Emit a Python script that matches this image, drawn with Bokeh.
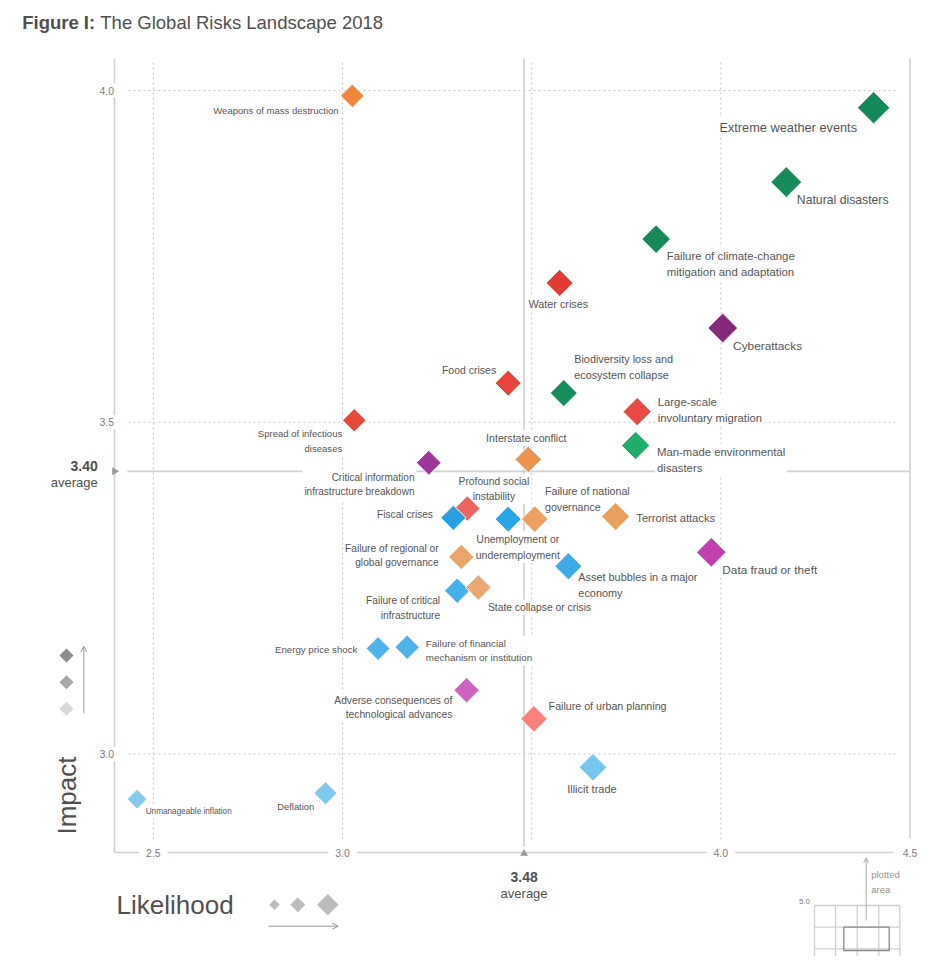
import numpy as np
from bokeh.plotting import figure
from bokeh.models import Range1d, ColumnDataSource, Arrow, OpenHead
from bokeh.core.properties import value
from bokeh.embed import file_html
from bokeh.resources import INLINE

# ---------------- data ----------------
risks = [
    "Weapons of mass destruction",
    "Extreme weather events",
    "Natural disasters",
    "Failure of climate-change\nmitigation and adaptation",
    "Water crises",
    "Cyberattacks",
    "Food crises",
    "Biodiversity loss and\necosystem collapse",
    "Large-scale\ninvoluntary migration",
    "Man-made environmental\ndisasters",
    "Interstate conflict",
    "Spread of infectious\ndiseases",
    "Critical information\ninfrastructure breakdown",
    "Profound social\ninstability",
    "Fiscal crises",
    "Unemployment or\nunderemployment",
    "Failure of national\ngovernance",
    "Terrorist attacks",
    "Failure of regional or\nglobal governance",
    "Asset bubbles in a major\neconomy",
    "Failure of critical\ninfrastructure",
    "State collapse or crisis",
    "Data fraud or theft",
    "Energy price shock",
    "Failure of financial\nmechanism or institution",
    "Adverse consequences of\ntechnological advances",
    "Failure of urban planning",
    "Illicit trade",
    "Unmanageable inflation",
    "Deflation",
]
likelihood = [3.026, 4.404, 4.173, 3.829, 3.574, 4.005, 3.438, 3.585, 3.779, 3.775,
              3.491, 3.031, 3.228, 3.330, 3.293, 3.438, 3.508, 3.722, 3.314, 3.597,
              3.303, 3.359, 3.975, 3.094, 3.171, 3.328, 3.506, 3.662, 2.457, 2.955]
impact = [3.992, 3.974, 3.862, 3.776, 3.710, 3.642, 3.559, 3.544, 3.516, 3.465,
          3.444, 3.503, 3.439, 3.370, 3.356, 3.354, 3.354, 3.358, 3.297, 3.283,
          3.246, 3.251, 3.304, 3.159, 3.161, 3.096, 3.053, 2.980, 2.932, 2.941]
categories = ["geopolitical", "environmental", "environmental", "environmental", "societal",
              "technological", "societal", "environmental", "societal", "environmental",
              "geopolitical", "societal", "technological", "societal", "economic",
              "economic", "geopolitical", "geopolitical", "geopolitical", "economic",
              "economic", "geopolitical", "technological", "economic", "economic",
              "technological", "societal", "economic", "economic", "economic"]

avg_likelihood = 3.48
avg_impact = 3.40
avg_impact_line = 3.426   # where the reference draws its average-impact line

x_grid = [2.5, 3.0, 3.5, 4.0]
y_grid = [4.0, 3.5, 3.0]
x_tick_values = [2.5, 3.0, 4.0, 4.5]
x_tick_labels = ["2.5", "3.0", "4.0", "4.5"]
y_tick_values = [4.0, 3.5, 3.0]
y_tick_labels = ["4.0", "3.5", "3.0"]

# ---------------- styles / layout ----------------
point_colors = ["#f5853a", "#138a5a", "#168b5b", "#178a5a", "#e53b30", "#862a7c", "#e8443a",
                "#168f5e", "#e84b42", "#1cae6b", "#ec924a", "#ea473b", "#a2359b", "#ef655d",
                "#26a1e6", "#29a5ea", "#eda060", "#eb9f5f", "#eda467", "#3aabe8", "#43b1eb",
                "#eda86f", "#c23fad", "#4db5ec", "#4db5ec", "#d063c1", "#fe8279", "#76c6f1",
                "#86ccf2", "#7ec9f1"]
label_dx = [-11.7, -14.6, 8.6, 8.6, -1.3, 8.4, -10, 8.4, 18.6, 19.4, -2, -10, -12.3, 26.6,
            -18.4, 9.6, 8.3, 18.7, -20.7, 8, -15, 7.6, 9, -18.7, 16.6, -12.3, 12.7, -1, 6.6, -9.3]
label_dy = [14.7, 19.4, 18, 24.5, 21.3, 18.3, -12.7, -25.9, -1.3, 14.2, -21.4, 20.8, 21.9, -19.3,
            -3, 28, -20.5, 1.3, -1.5, 19, 17.3, 19.7, 17.3, 1, 3.5, 17.3, -13, 21.3, 12.7, 13.6]
label_align = ["right", "right", "left", "left", "center", "left", "right", "left", "left", "left",
               "center", "right", "right", "center", "right", "center", "left", "left", "right", "left",
               "right", "left", "left", "right", "left", "right", "left", "center", "left", "right"]

FONT = value("Liberation Sans")
TXT = "#555555"
W, H = 930, 956
ORIGIN = 0          # page pixel where the canvas starts
PXX, PXY = 378.3, 663.5


def X(px):  # page pixel -> likelihood
    return 3.0 + (px - 342.0) / PXX


def Y(py):  # page pixel -> impact
    return 4.0 - (py - 90.0) / PXY


lk = np.array(likelihood)
sizes = (19.8 + 6.52 * (lk - 2.457)) / np.sqrt(2)
font_sizes = ["%.2fpx" % (8.2 + 2.35 * (v - 2.457)) for v in likelihood]

src = ColumnDataSource(dict(x=likelihood, y=impact, name=risks, cat=categories,
                            color=point_colors, size=sizes, dx=label_dx, dy=label_dy,
                            align=label_align, fs=font_sizes))

p = figure(width=W, height=H, x_range=Range1d(X(ORIGIN), X(ORIGIN + W)),
           y_range=Range1d(Y(ORIGIN + H), Y(ORIGIN)),
           output_backend="svg", toolbar_location=None, min_border=0,
           x_axis_location=None, y_axis_location=None)
p.grid.visible = False
p.outline_line_color = None
p.background_fill_color = "white"
p.border_fill_color = "white"

GRID = "#c6c6c6"
SOLID = "#d0d0d0"

# dotted grid
p.segment(x0=x_grid, y0=[Y(62)] * 4, x1=x_grid, y1=[Y(839)] * 4, line_color=GRID,
          line_dash="2 3", line_width=1, level="image")
p.segment(x0=[X(128)] * 3, y0=y_grid, x1=[X(897)] * 3, y1=y_grid, line_color=GRID,
          line_dash="2 3", line_width=1, level="image")
# average lines
p.segment(x0=[avg_likelihood], y0=[Y(58)], x1=[avg_likelihood], y1=[Y(846)],
          line_color=SOLID, line_width=1.6, level="image")
p.segment(x0=[X(127)], y0=[avg_impact_line], x1=[4.5], y1=[avg_impact_line],
          line_color=SOLID, line_width=1.6, level="image")
# frame lines
p.segment(x0=[4.5], y0=[Y(58)], x1=[4.5], y1=[Y(838)], line_color=SOLID, line_width=1.6, level="image")
p.segment(x0=[X(114)], y0=[Y(58)], x1=[X(114)], y1=[Y(852)], line_color=SOLID, line_width=1.6, level="image")
p.segment(x0=[X(114)], y0=[Y(852)], x1=[X(893)], y1=[Y(852)], line_color=SOLID, line_width=1.6, level="image")

# tick labels
p.text(x=x_tick_values, y=[Y(852)] * 4, text=x_tick_labels, text_align="center",
       text_baseline="middle", text_font=FONT, text_font_size="10.5px", text_color="#808080",
       background_fill_color="white", padding=7, level="underlay")
p.text(x=[X(116.5)] * 3, y=y_tick_values, text=y_tick_labels, text_align="right",
       text_baseline="middle", text_font=FONT, text_font_size="10.5px", text_color="#808080",
       background_fill_color="white", padding=3, level="underlay")

# average markers and labels
p.scatter(x=[avg_likelihood], y=[Y(853)], marker="triangle", size=8, fill_color="#9a9a9a",
          line_color=None)
p.scatter(x=[X(114)], y=[avg_impact_line], marker="triangle", angle=-np.pi / 2, size=8,
          fill_color="#9a9a9a", line_color=None)
p.text(x=[X(97.3)], y=[Y(465.3)], text=["%.2f" % avg_impact], text_align="right", text_baseline="middle",
       text_font=FONT, text_font_size="14px", text_font_style="bold", text_color="#505050")
p.text(x=[X(97.3)], y=[Y(481.7)], text=["average"], text_align="right", text_baseline="middle",
       text_font=FONT, text_font_size="13px", text_color="#505050")
p.text(x=[avg_likelihood], y=[Y(876)], text=["%.2f" % avg_likelihood], text_align="center",
       text_baseline="middle", text_font=FONT, text_font_size="14px", text_font_style="bold",
       text_color="#505050")
p.text(x=[avg_likelihood], y=[Y(892.7)], text=["average"], text_align="center", text_baseline="middle",
       text_font=FONT, text_font_size="13px", text_color="#505050")

# risk labels (white boxes break the lines behind them)
p.text(x="x", y="y", text="name", x_offset="dx", y_offset="dy", text_align="align",
       text_baseline="middle", text_font=FONT, text_font_size="fs", text_color=TXT,
       text_line_height=1.33, background_fill_color="white", padding=2, source=src,
       level="underlay")

# diamonds
p.scatter(x="x", y="y", marker="square", angle=np.pi / 4, size="size", fill_color="color",
          line_color="white", line_width=1, source=src)

# title
p.text(x=[X(21.7)], y=[Y(22.3)], text=["Figure I:"], text_baseline="middle", text_font=FONT,
       text_font_size="18.5px", text_font_style="bold", text_color="#505050")
p.text(x=[X(99.8)], y=[Y(22.3)], text=["The Global Risks Landscape 2018"], text_baseline="middle",
       text_font=FONT, text_font_size="18.5px", text_color="#505050")

# Impact legend
p.text(x=[X(66)], y=[Y(795)], text=["Impact"], angle=np.pi / 2, text_align="center",
       text_baseline="middle", text_font=FONT, text_font_size="26px", text_color="#505050")
p.scatter(x=[X(66)] * 3, y=[Y(655), Y(681.7), Y(708.3)], marker="square", angle=np.pi / 4,
          size=10, fill_color=["#8c8c8c", "#a8a8a8", "#d9d9d9"], line_color=None)
p.add_layout(Arrow(end=OpenHead(size=6, line_color="#999999", line_width=1),
                   x_start=X(83.3), y_start=Y(713), x_end=X(83.3), y_end=Y(645.7),
                   line_color="#999999", line_width=1))

# Likelihood legend
p.text(x=[X(116)], y=[Y(904.3)], text=["Likelihood"], text_baseline="middle",
       text_font=FONT, text_font_size="26px", text_color="#505050")
p.scatter(x=[X(274), X(297.3), X(327.3)], y=[Y(904.3)] * 3, marker="square", angle=np.pi / 4,
          size=[7.5, 10.6, 15.3], fill_color="#bdbdbd", line_color=None)
p.add_layout(Arrow(end=OpenHead(size=6, line_color="#999999", line_width=1),
                   x_start=X(268), y_start=Y(925.7), x_end=X(337.7), y_end=Y(925.7),
                   line_color="#999999", line_width=1))

# plotted-area inset
gx = [814, 835, 856.7, 878.3, 899.3]
gy = [905, 926.7, 948.3]
p.segment(x0=[X(v) for v in gx], y0=[Y(905)] * 5, x1=[X(v) for v in gx], y1=[Y(970)] * 5,
          line_color="#d0d0d0", line_width=1.3)
p.segment(x0=[X(814)] * 3, y0=[Y(v) for v in gy], x1=[X(899.3)] * 3, y1=[Y(v) for v in gy],
          line_color="#d0d0d0", line_width=1.3)
p.quad(left=[X(843.3)], right=[X(888.7)], top=[Y(926.7)], bottom=[Y(950)], fill_color=None,
       line_color="#8a8a8a", line_width=1.3)
p.text(x=[X(809.5)], y=[Y(901)], text=["5.0"], text_align="right", text_baseline="middle",
       text_font=FONT, text_font_size="8px", text_color="#777777")
p.text(x=[X(870.7)], y=[Y(881.5)], text=["plotted\narea"], text_baseline="middle",
       text_font=FONT, text_font_size="9.5px", text_color="#9a9088", text_line_height=1.3)
p.add_layout(Arrow(end=OpenHead(size=5, line_color="#aaaaaa", line_width=1),
                   x_start=X(865.7), y_start=Y(920), x_end=X(865.7), y_end=Y(857.3),
                   line_color="#aaaaaa", line_width=1))

open("out.html", "w").write(file_html(p, INLINE))
